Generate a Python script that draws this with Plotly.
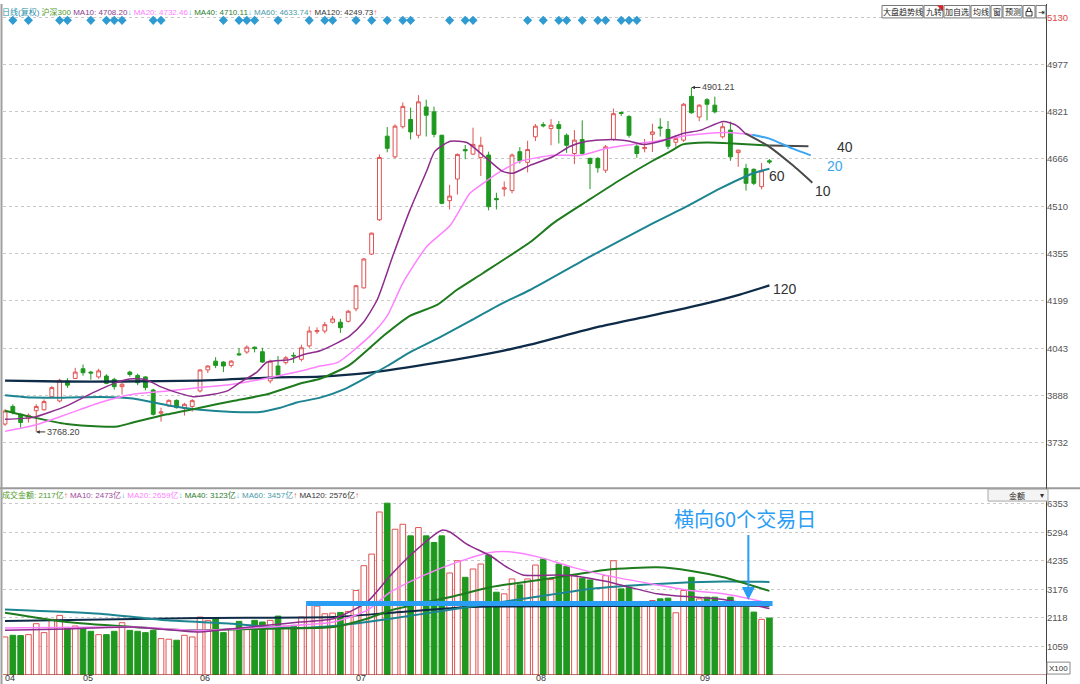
import plotly.graph_objects as go

W, H = 1080, 684

# ---- CSI300 daily candles (one value per session, index 0..98) ----
open_ = [3794, 3852, 3826, 3812, 3838, 3841, 3884, 3870, 3936, 3944,
         3976, 3965, 3949, 3952, 3941, 3917, 3965, 3954, 3949, 3906,
         3830, 3854, 3872, 3845, 3852, 3903, 3972, 4001, 3998, 3987,
         4025, 4031, 4047, 4032, 3936, 3985, 3996, 4020, 4007, 4051,
         4098, 4100, 4129, 4129, 4132, 4173, 4242, 4353, 4466, 4741,
         4673, 4772, 4796, 4744, 4837, 4821, 4744, 4529, 4600, 4697,
         4682, 4671, 4679, 4536, 4567, 4562, 4690, 4655, 4739, 4779,
         4766, 4779, 4744, 4684, 4730, 4668, 4668, 4629, 4730, 4819,
         4806, 4708, 4700, 4747, 4771, 4763, 4721, 4728, 4872, 4804,
         4861, 4843, 4739, 4761, 4687, 4635, 4632, 4575, 4660]
high = [3843, 3859, 3829, 3829, 3859, 3875, 3919, 3943, 3945, 3979,
        3990, 3969, 3976, 3958, 3946, 3930, 3969, 3960, 3952, 3910,
        3848, 3875, 3875, 3864, 3876, 3975, 3988, 4014, 4001, 4004,
        4044, 4053, 4049, 4045, 4006, 4018, 4018, 4030, 4055, 4115,
        4112, 4130, 4150, 4140, 4170, 4252, 4340, 4424, 4681, 4771,
        4780, 4852, 4835, 4876, 4861, 4838, 4746, 4581, 4684, 4712,
        4769, 4739, 4690, 4555, 4592, 4684, 4705, 4726, 4781, 4787,
        4797, 4791, 4750, 4761, 4793, 4670, 4672, 4712, 4832, 4822,
        4810, 4716, 4732, 4782, 4800, 4791, 4745, 4850, 4901.21, 4846,
        4866, 4871, 4785, 4789, 4697, 4650, 4635, 4653, 4666]
low = [3788, 3826, 3782, 3799, 3768.2, 3838, 3881, 3865, 3913, 3943,
       3953, 3940, 3943, 3925, 3907, 3891, 3950, 3922, 3905, 3822,
       3802, 3850, 3845, 3822, 3835, 3898, 3962, 3978, 3965, 3980,
       4019, 4025, 4030, 3995, 3928, 3950, 3990, 3995, 4000, 4045,
       4090, 4092, 4125, 4094, 4128, 4165, 4240, 4350, 4462, 4688,
       4668, 4766, 4730, 4734, 4740, 4737, 4517, 4500, 4549, 4665,
       4679, 4610, 4497, 4500, 4543, 4553, 4651, 4622, 4725, 4770,
       4711, 4717, 4686, 4649, 4679, 4567, 4621, 4620, 4725, 4808,
       4736, 4670, 4688, 4689, 4740, 4698, 4706, 4722, 4815, 4790,
       4793, 4816, 4733, 4660, 4640, 4562, 4580, 4566, 4650]
close = [3837, 3832, 3799, 3823, 3852, 3868, 3914, 3938, 3922, 3965,
         3963, 3962, 3969, 3928, 3917, 3925, 3957, 3930, 3914, 3826,
         3834, 3872, 3848, 3859, 3871, 3972, 3985, 3987, 3985, 4001,
         4022, 4047, 4042, 3998, 4001, 3955, 4012, 4018, 4045, 4100,
         4102, 4121, 4140, 4111, 4165, 4249, 4337, 4422, 4671, 4701,
         4774, 4839, 4755, 4854, 4810, 4747, 4520, 4544, 4681, 4693,
         4714, 4711, 4509, 4532, 4571, 4679, 4660, 4697, 4774, 4775,
         4777, 4766, 4711, 4728, 4684, 4651, 4637, 4706, 4815, 4816,
         4744, 4684, 4704, 4755, 4768, 4708, 4733, 4846, 4818, 4843,
         4846, 4821, 4772, 4673, 4695, 4586, 4586, 4627, 4656]

# 成交金额 (亿)
amount = [1414, 1476, 1464, 1500, 1906, 1574, 2066, 2214, 1747, 1820,
          1747, 1624, 1500, 1500, 1624, 1943, 1660, 1624, 1574, 1660,
          1353, 1330, 1292, 1476, 1414, 2152, 2030, 2091, 1574, 1722,
          1993, 1722, 2030, 1968, 2030, 2189, 1820, 1845, 2152, 2583,
          2558, 2275, 2300, 2325, 2362, 3137, 4059, 4490, 6052, 6380,
          5412, 5597, 5166, 5474, 5166, 4920, 5166, 3789, 4244, 3628,
          3936, 4121, 4453, 3075, 3014, 3567, 3346, 3567, 4084, 4305,
          3542, 4121, 4035, 3690, 3592, 3530, 2583, 3690, 4244, 3198,
          3260, 2644, 2620, 2768, 2829, 2854, 2312, 3137, 3628, 2829,
          2890, 2890, 2681, 2890, 2583, 2521, 2337, 2066, 2117]

month_labels = ["04", "05", "06", "07", "08", "09"]
month_idx = [0, 10, 25, 45, 68, 89]

signal_idx = [1, 3, 7, 8, 11, 13, 14, 15, 19, 20, 28, 30, 31, 32, 35, 39, 41, 42,
              45, 47, 49, 51, 52, 57, 59, 60, 67, 69, 71, 72, 74, 76, 77, 79, 80, 81]

price_ticks = [3732, 3888, 4043, 4199, 4355, 4510, 4666, 4821, 4977, 5130]
amount_ticks = [1059, 2118, 3176, 4235, 5294, 6353]

# moyennes mobiles du prix (indice, valeur)
ma10_x = [0, 3.6, 7.9, 10.0, 12.2, 14.4, 16.4, 18.2, 19.9, 22.4, 24.1, 26.7, 28.5, 30.1,
          32.3, 33.6, 36.5, 38.2, 40.4, 42.6, 44.2, 45.9, 47.7, 49.7, 51.9, 54.1, 55.1,
          57.1, 59.2, 61.3, 63.8, 65.1, 67.3, 70.3, 72.4, 74.6, 77.9, 80.1, 81.8, 84.4,
          86.9, 89.1, 92.1, 93.8, 94.9]
ma10_y = [3810, 3816, 3854, 3881, 3908, 3932, 3943, 3939, 3917, 3895, 3884, 3892, 3903, 3930,
          3965, 3998, 4006, 4022, 4035, 4061, 4084, 4127, 4202, 4346, 4497, 4629, 4691,
          4724, 4720, 4678, 4625, 4619, 4645, 4674, 4707, 4724, 4730, 4724, 4714, 4727,
          4750, 4760, 4789, 4776, 4750]
ma10_ext_x = [94.9, 98.0, 101.0, 103.5]
ma10_ext_y = [4750, 4706, 4645, 4588]

ma20_x = [0, 3.6, 7.9, 12.2, 16.4, 20.8, 25.0, 29.2, 33.6, 38.2, 40.4, 42.6, 46.8, 49.0,
          51.0, 54.1, 57.1, 59.6, 61.3, 63.8, 66.0, 70.3, 73.7, 77.2, 80.5, 84.0, 87.4,
          90.0, 92.6, 95.8]
ma20_y = [3770, 3789, 3826, 3865, 3892, 3903, 3914, 3925, 3945, 3970, 3985, 3996, 4084, 4150,
          4258, 4379, 4448, 4553, 4586, 4629, 4658, 4678, 4678, 4701, 4714, 4727, 4743,
          4750, 4753, 4746]
ma20_ext_x = [95.8, 98.0, 101.0, 103.3]
ma20_ext_y = [4746, 4733, 4700, 4678]

ma40_x = [0, 3.6, 7.9, 12.2, 14.4, 16.4, 20.8, 25.0, 29.2, 33.6, 38.2, 40.4, 44.2, 48.5,
          51.9, 55.4, 57.9, 61.3, 67.3, 70.3, 74.6, 78.8, 83.1, 85.3, 86.9, 90.0, 93.3, 98.0]
ma40_y = [3838, 3816, 3794, 3786, 3786, 3799, 3826, 3848, 3870, 3892, 3930, 3943, 3989, 4084,
          4150, 4186, 4235, 4291, 4392, 4455, 4527, 4596, 4661, 4691, 4714, 4720, 4717, 4710]
ma40_ext_x = [98.0, 103.0]
ma40_ext_y = [4710, 4708]

ma60_x = [0, 3.6, 7.9, 12.2, 16.4, 20.8, 25.0, 29.2, 32.7, 35.3, 37.4, 40.4, 43.6, 46.2,
          49.0, 51.9, 55.4, 59.6, 63.8, 67.3, 75.0, 83.1, 87.4, 91.7, 95.9, 98.0]
ma60_y = [3889, 3881, 3881, 3883, 3878, 3856, 3841, 3834, 3834, 3848, 3865, 3881, 3910, 3945,
          3985, 4030, 4075, 4133, 4192, 4235, 4345, 4455, 4510, 4569, 4619, 4634]

ma120_x = [0, 7.1, 14.7, 25.0, 34.0, 40.4, 46.8, 55.4, 63.8, 67.3, 76.3, 82.7, 89.1, 94.2, 98.0]
ma120_y = [3937, 3934, 3934, 3937, 3947, 3950, 3963, 3996, 4035, 4055, 4115, 4150, 4186,
           4220, 4250]

# moyennes mobiles du montant
vma10_x = [0, 7.9, 16.4, 25.0, 29.2, 33.6, 37.8, 42.1, 46.4, 49.4, 51.9, 56.0, 57.1, 59.2,
           62.2, 64.4, 66.4, 70.8, 72.8, 77.2, 79.2, 83.6, 85.6, 92.1, 98.0]
vma10_y = [1660, 1710, 1783, 1599, 1722, 1845, 1968, 2091, 2705, 3690, 4428, 5375, 5300, 4859,
           4428, 3997, 3715, 3715, 3690, 3469, 3321, 3014, 2952, 2800, 2473]
vma20_x = [0, 16.4, 25.0, 33.6, 42.1, 46.4, 49.4, 53.6, 57.9, 62.2, 64.7, 68.6, 72.8, 77.2,
           83.6, 87.8, 92.1, 96.4, 98.0]
vma20_y = [1747, 1783, 1660, 1783, 1968, 2398, 3075, 3690, 4182, 4551, 4576, 4367, 3997, 3690,
           3346, 3137, 3014, 2768, 2659]
vma40_x = [0, 7.9, 16.4, 23.3, 33.6, 42.1, 46.4, 49.4, 57.9, 62.2, 70.8, 77.2, 83.6, 87.8,
           92.1, 98.0]
vma40_y = [2312, 1968, 1783, 1660, 1722, 1783, 2091, 2398, 2952, 3260, 3628, 3911, 3997, 3875,
           3628, 3123]
vma60_x = [0, 12.2, 20.8, 29.2, 33.6, 37.8, 42.1, 46.4, 49.4, 57.9, 66.4, 75.0, 83.6, 92.1, 98.0]
vma60_y = [2435, 2275, 2030, 1906, 1783, 1747, 1820, 1968, 2091, 2460, 2829, 3198, 3383, 3469,
           3457]
vma120_x = [0, 25.0, 42.1, 49.4, 57.9, 62.2, 76.3, 98.0]
vma120_y = [2005, 2116, 2152, 2312, 2500, 2540, 2560, 2576]

# repère "横向60个交易日"
band_x = [38.6, 98.4]
band_y = [2657, 2657]

RED = "#e05252"
GREEN = "#1f981f"
BLUE = "#2a9df4"
C10, C20, C40, C60, C120 = "#8e2c8e", "#ff80ff", "#1e7b1e", "#1c8591", "#0e2b47"
FONT = "Liberation Sans, Noto Sans CJK SC"
CJK = "Noto Sans CJK SC"


def px(x):
    return x / W


def py(y):
    return 1 - y / H


def label(text, x, y, size=9, color="#333", family=FONT, xanchor="center"):
    # texte positionné en pixels (papier)
    return dict(text=text, xref="paper", yref="paper", x=px(x), y=py(y), showarrow=False,
                xanchor=xanchor, yanchor="middle", borderpad=0,
                font=dict(family=family, size=size, color=color))


idx = list(range(len(close)))
up = [c >= o for o, c in zip(open_, close)]

fig = go.Figure()

fig.add_trace(go.Candlestick(
    x=idx, open=open_, high=high, low=low, close=close,
    increasing=dict(line=dict(color=RED, width=1), fillcolor="white"),
    decreasing=dict(line=dict(color=GREEN, width=1), fillcolor=GREEN),
    whiskerwidth=0, xaxis="x", yaxis="y", showlegend=False, hoverinfo="skip"))

for xs, ys, col, w in [(ma120_x, ma120_y, C120, 2.3), (ma60_x, ma60_y, C60, 2),
                       (ma40_x, ma40_y, C40, 2), (ma20_x, ma20_y, C20, 1.5),
                       (ma10_x, ma10_y, C10, 1.5),
                       (ma40_ext_x, ma40_ext_y, "#4a4a4a", 2),
                       (ma20_ext_x, ma20_ext_y, "#3aa6f2", 2),
                       (ma10_ext_x, ma10_ext_y, "#4a4a4a", 2)]:
    fig.add_trace(go.Scatter(x=xs, y=ys, mode="lines", xaxis="x", yaxis="y",
                             line=dict(color=col, width=w, shape="spline", smoothing=0.6),
                             showlegend=False, hoverinfo="skip"))

# signaux
fig.add_trace(go.Scatter(x=signal_idx, y=[5122] * len(signal_idx), mode="markers",
                         marker=dict(symbol="diamond", size=7, color="#2f9bd0"),
                         xaxis="x", yaxis="y", showlegend=False, hoverinfo="skip"))

# montant
up_x = [i for i in idx if up[i]]
dn_x = [i for i in idx if not up[i]]
fig.add_trace(go.Bar(x=up_x, y=[amount[i] for i in up_x], width=0.72,
                     marker=dict(color="white", line=dict(color=RED, width=1)),
                     xaxis="x2", yaxis="y2", showlegend=False, hoverinfo="skip"))
fig.add_trace(go.Bar(x=dn_x, y=[amount[i] for i in dn_x], width=0.72,
                     marker=dict(color=GREEN, line=dict(color=GREEN, width=1)),
                     xaxis="x2", yaxis="y2", showlegend=False, hoverinfo="skip"))

for xs, ys, col, w in [(vma120_x, vma120_y, C120, 2), (vma60_x, vma60_y, C60, 2),
                       (vma40_x, vma40_y, C40, 2), (vma20_x, vma20_y, C20, 1.5),
                       (vma10_x, vma10_y, C10, 1.5), (band_x, band_y, BLUE, 5)]:
    fig.add_trace(go.Scatter(x=xs, y=ys, mode="lines", xaxis="x2", yaxis="y2",
                             line=dict(color=col, width=w, shape="spline", smoothing=0.6),
                             showlegend=False, hoverinfo="skip"))

xrange = [-0.26, 133.46]
xdom = [px(3), px(1046)]
ymin_px, ymax_px = 486, 2
p_per_px = (5130 - 3732) / (441.5 - 14)
price_range = [5130 - (ymin_px - 14) * p_per_px, 5130 + (14 - ymax_px) * p_per_px]
a_per_px = 1059 / 28.7

fig.update_layout(
    width=W, height=H, margin=dict(l=0, r=0, t=0, b=0),
    paper_bgcolor="white", plot_bgcolor="white", barmode="overlay",
    font=dict(family=FONT, size=10, color="#555"),
    xaxis=dict(domain=xdom, range=xrange, anchor="y", showgrid=False, zeroline=False,
               showticklabels=False, rangeslider=dict(visible=False), fixedrange=True),
    yaxis=dict(domain=[py(ymin_px), py(ymax_px)], range=price_range, side="right",
               tickvals=price_ticks,
               ticktext=[("<span style='color:#e04848'>%d</span>" % v) if v == 5130 else str(v)
                         for v in price_ticks],
               showgrid=True, gridcolor="#c9c9c9", griddash="dot", zeroline=False,
               tickfont=dict(size=9.5, color="#555"), ticks=""),
    xaxis2=dict(domain=xdom, range=xrange, anchor="y2", showgrid=False, zeroline=False,
                showticklabels=False),
    yaxis2=dict(domain=[py(675), py(501)], range=[0, (675 - 501) * a_per_px], side="right",
                tickvals=amount_ticks, showgrid=True, gridcolor="#c9c9c9", griddash="dot",
                zeroline=False, tickfont=dict(size=9.5, color="#555"), ticks=""),
)

shapes = [
    dict(type="line", xref="paper", yref="paper", x0=0, x1=1, y0=py(487), y1=py(487),
         line=dict(color="#9a9a9a", width=2)),
    dict(type="line", xref="paper", yref="paper", x0=px(1.5), x1=px(1.5), y0=0, y1=1,
         line=dict(color="#a0a0a0", width=2)),
    dict(type="line", xref="paper", yref="paper", x0=px(1046.5), x1=px(1046.5), y0=0, y1=1,
         line=dict(color="#444", width=1)),
    dict(type="line", xref="x2 domain", yref="y2", x0=0, x1=1, y0=0, y1=0,
         line=dict(color="#8b2020", width=1)),
    dict(type="rect", xref="paper", yref="paper", x0=px(988), x1=px(1048), y0=py(500), y1=py(488),
         fillcolor="#f4f4f4", line=dict(color="#a8a8a8", width=1)),
    dict(type="rect", xref="paper", yref="paper", x0=px(1047), x1=px(1070), y0=py(674), y1=py(662),
         fillcolor="white", line=dict(color="#888", width=1)),
]

annotations = []

# boutons en haut à droite
buttons = [("大盘趋势线", 882, 923), ("九转", 924, 943), ("加自选", 944, 970), ("均线", 971, 990),
           ("窗", 991, 1002), ("预测", 1003, 1022), ("", 1023, 1035), ("⇥", 1036, 1046)]
for text, x0, x1 in buttons:
    shapes.append(dict(type="rect", xref="paper", yref="paper", x0=px(x0), x1=px(x1),
                       y0=py(14), y1=py(1.5), fillcolor="white", line=dict(color="#777", width=1)))
    if text:
        annotations.append(label(text, (x0 + x1) / 2, 8, size=8, color="#222", family=CJK))
shapes.append(dict(type="path", xref="paper", yref="paper",
                   path="M %f %f L %f %f L %f %f Z" % (px(937), py(1.5), px(943), py(1.5), px(943), py(7.5)),
                   fillcolor="#e02020", line=dict(width=0)))
shapes.append(dict(type="rect", xref="paper", yref="paper", x0=px(1026), x1=px(1032),
                   y0=py(12), y1=py(7.5), line=dict(color="#333", width=1)))
shapes.append(dict(type="path", xref="paper", yref="paper",
                   path="M %f %f L %f %f Q %f %f %f %f L %f %f" % (
                       px(1027.3), py(7.5), px(1027.3), py(5), px(1029), py(2.5),
                       px(1030.7), py(5), px(1030.7), py(7.5)),
                   line=dict(color="#333", width=1)))

# légendes
top_legend = ("<span style='color:#2a8fa8'>日线(复权)</span> "
              "<span style='color:#4f9a2a'>沪深300</span> "
              "<span style='color:#8e3a8e'>MA10: 4708.20</span><span style='color:#3fb5e8'>↓</span> "
              "<span style='color:#ff80ff'>MA20: 4732.46</span><span style='color:#3fb5e8'>↓</span> "
              "<span style='color:#2e7d2e'>MA40: 4710.11</span><span style='color:#3fb5e8'>↓</span> "
              "<span style='color:#4a9ba8'>MA60: 4633.74</span><span style='color:#f05a5a'>↑</span> "
              "<span style='color:#333'>MA120: 4249.73</span><span style='color:#f05a5a'>↑</span>")
low_legend = ("<span style='color:#4f9a2a'>成交金额: 2117亿</span><span style='color:#f05a5a'>↑</span> "
              "<span style='color:#a04aa0'>MA10: 2473亿</span><span style='color:#3fb5e8'>↓</span> "
              "<span style='color:#ff80ff'>MA20: 2659亿</span><span style='color:#3fb5e8'>↓</span> "
              "<span style='color:#2e7d2e'>MA40: 3123亿</span><span style='color:#3fb5e8'>↓</span> "
              "<span style='color:#4a9ba8'>MA60: 3457亿</span><span style='color:#f05a5a'>↑</span> "
              "<span style='color:#333'>MA120: 2576亿</span><span style='color:#f05a5a'>↑</span>")
annotations.append(label(top_legend, 1, 8, size=8, xanchor="left"))
annotations.append(label(low_legend, 1, 494, size=8, xanchor="left"))
annotations.append(label("金额", 1017, 494, size=8, color="#222", family=CJK))
annotations.append(label("▾", 1042, 494, size=8))
annotations.append(label("X100", 1058.5, 668, size=8))

# mois
for lab, i in zip(month_labels, month_idx):
    annotations.append(dict(text=lab, xref="x2", yref="paper", x=i - 0.2, y=py(678),
                            xanchor="left", yanchor="middle", showarrow=False,
                            font=dict(size=9, color="#333")))

# extrêmes
annotations.append(dict(text="4901.21", xref="x", yref="y", x=88, y=4901.21, ax=27, ay=0,
                        showarrow=True, arrowhead=2, arrowsize=0.7, arrowwidth=1,
                        arrowcolor="#333", font=dict(size=9, color="#444")))
annotations.append(dict(text="3768.20", xref="x", yref="y", x=4, y=3768.2, ax=27, ay=0,
                        showarrow=True, arrowhead=2, arrowsize=0.7, arrowwidth=1,
                        arrowcolor="#333", font=dict(size=9, color="#444")))

# étiquettes des moyennes
for lab, xi, yv, col in [("40", 107.7, 4707, "#333"), ("20", 106.4, 4642, "#3aa6f2"),
                         ("10", 104.9, 4560, "#333"), ("60", 99.0, 4609, "#333"),
                         ("120", 100.0, 4238, "#333")]:
    annotations.append(dict(text=lab, xref="x", yref="y", x=xi, y=yv, showarrow=False,
                            font=dict(family="Liberation Sans", size=14, color=col)))

# annotation 60 jours
annotations.append(dict(text="横向60个交易日", xref="x2", yref="y2", x=94.9, y=5800,
                        showarrow=False, font=dict(family=CJK, size=20, color=BLUE)))
annotations.append(dict(text="", xref="x2", yref="y2", x=95.3, y=2790, ax=95.3, ay=5250,
                        axref="x2", ayref="y2", showarrow=True, arrowhead=2, arrowsize=1.3,
                        arrowwidth=2, arrowcolor=BLUE))

fig.update_layout(shapes=shapes, annotations=annotations)

fig.write_html("out.html", config={"displayModeBar": False},
               post_script="document.body.style.margin='0';document.body.style.overflow='hidden';")
